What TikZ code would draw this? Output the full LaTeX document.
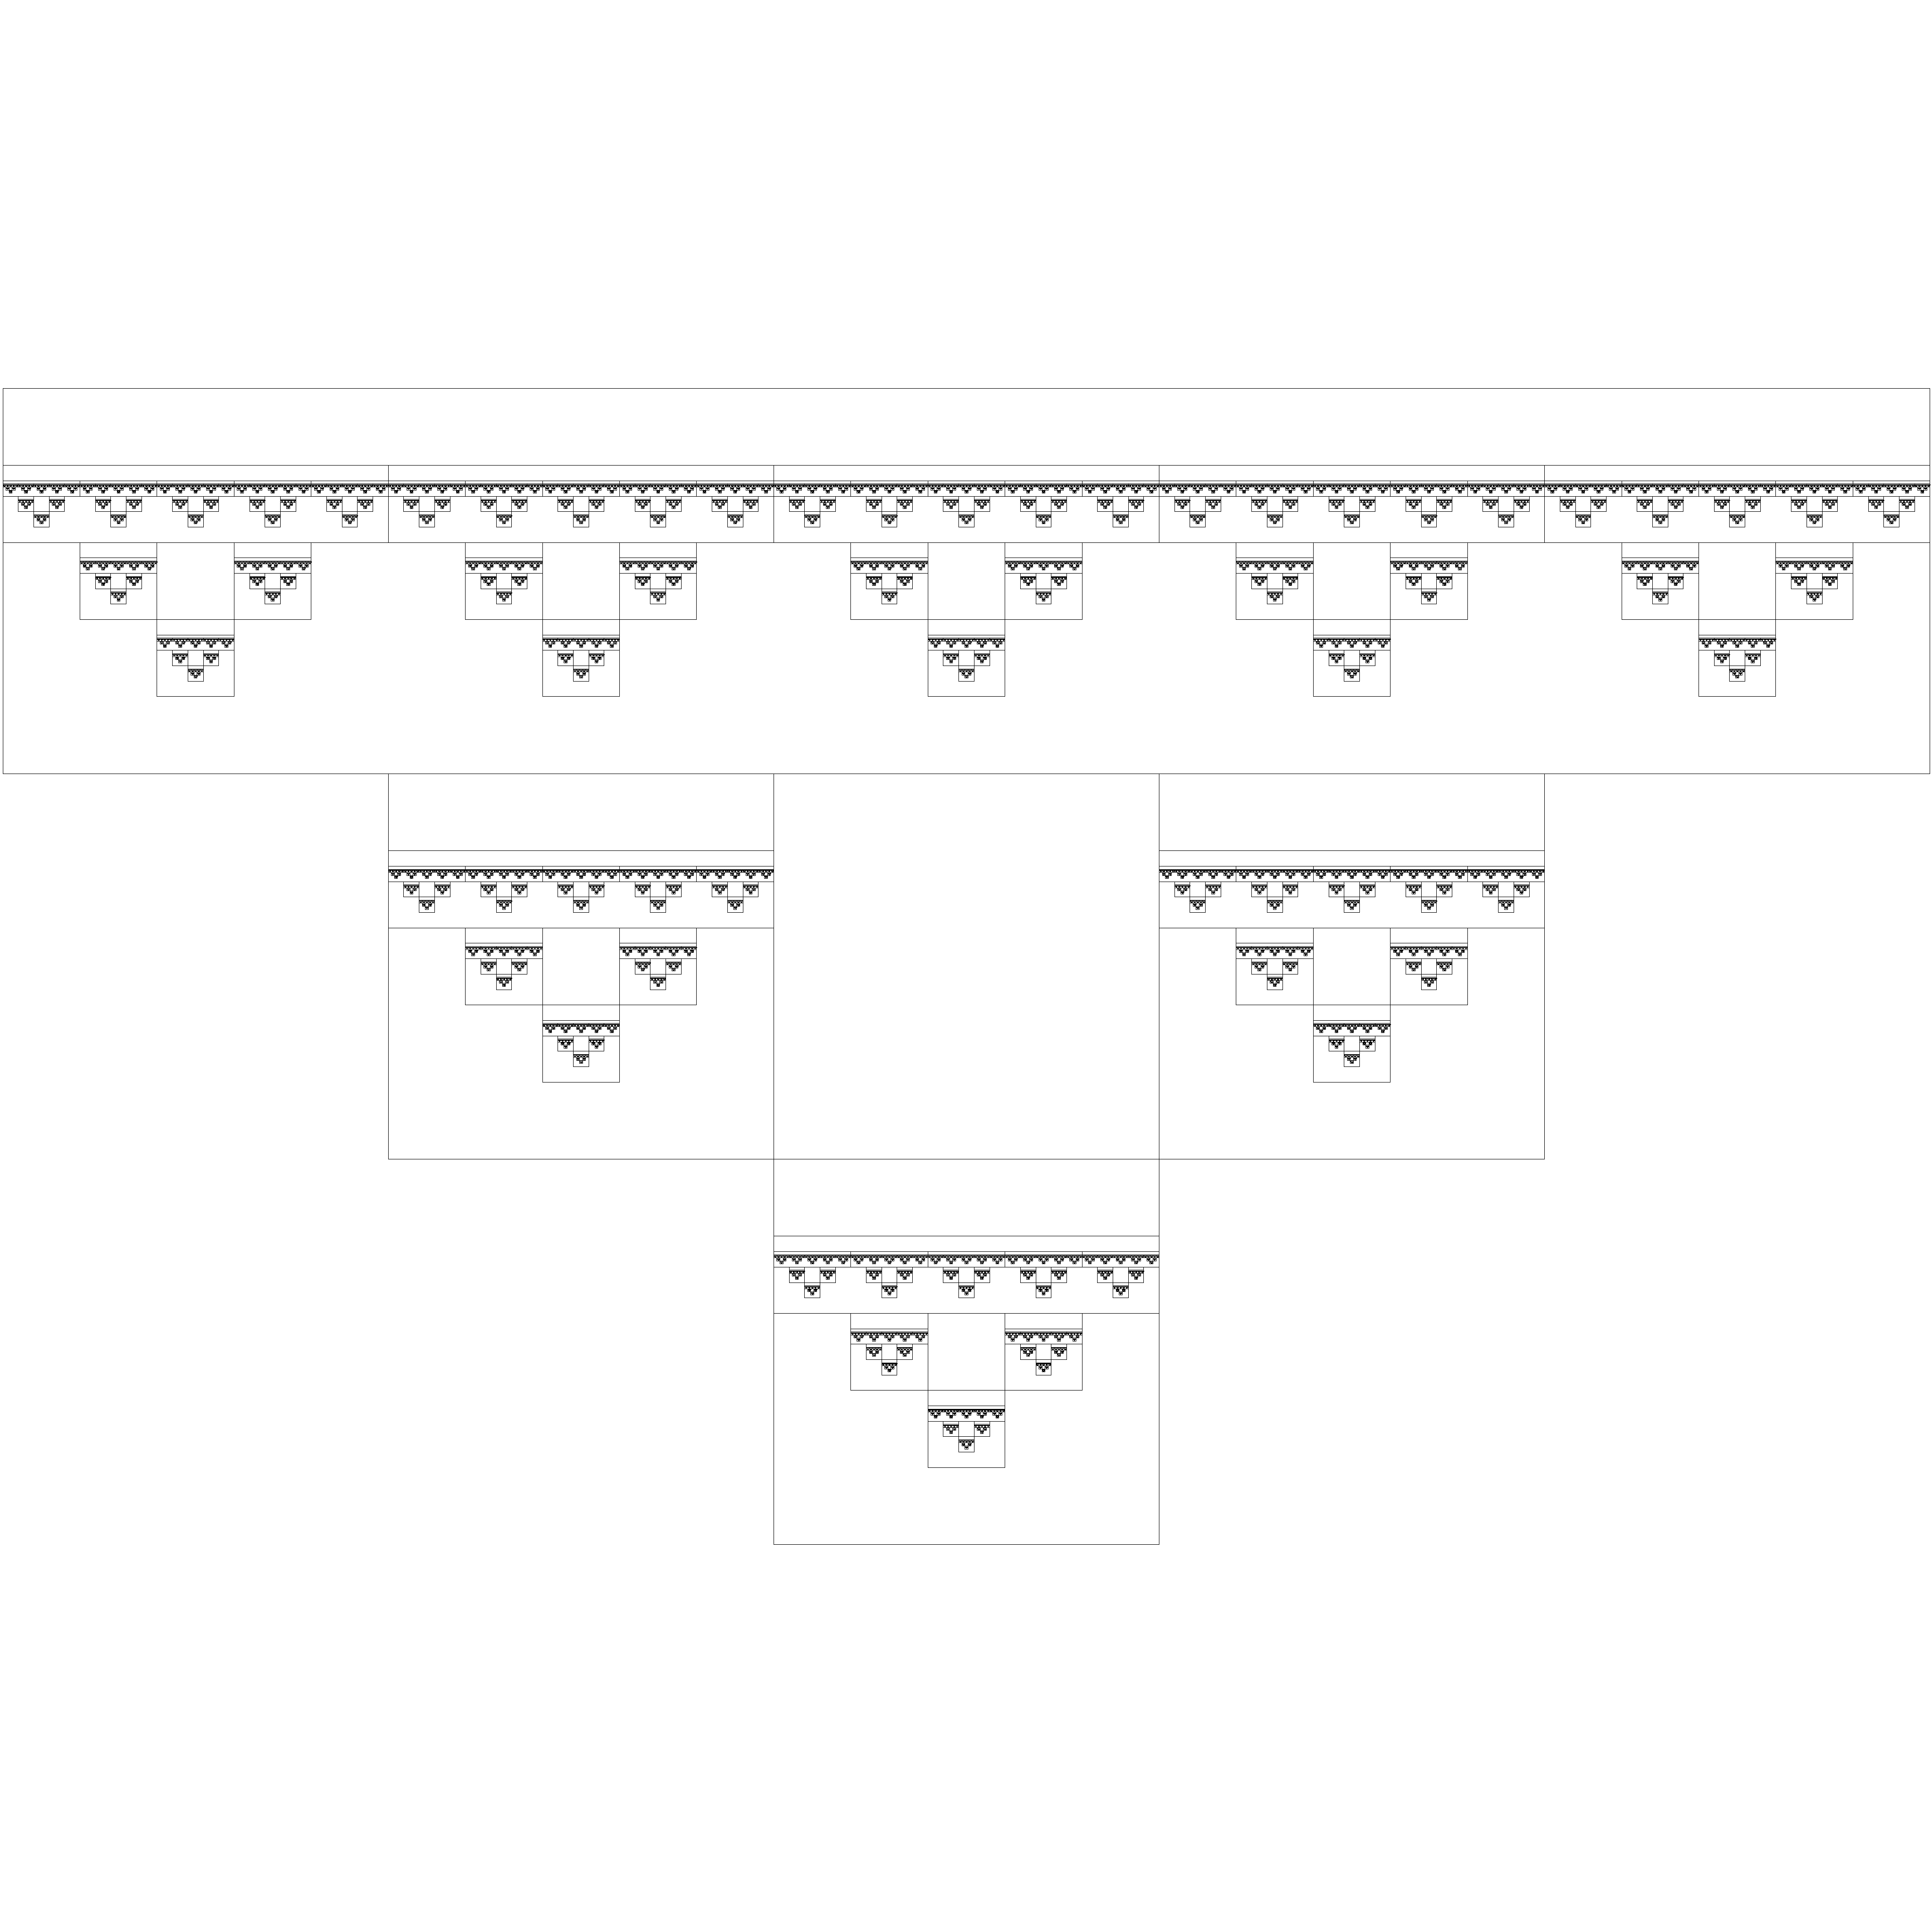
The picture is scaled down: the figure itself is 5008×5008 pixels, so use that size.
\documentclass[tikz,border=0pt]{standalone}
\makeatletter
% integer grid: 1 unit = 1.6 px of the 5008 px reference, origin at (7.5 px, 7.5 px), y downwards
\def\vhead{q 0.2267717 0 0 -0.2267717 1.062992 -1.062992 cm 0 G 0 J 0 j }
\def\vsq#1#2#3#4{% X Y S depth
  \ifnum#4>0 \expandafter\vsqdo\expandafter{\the\numexpr#3/5\relax}{#1}{#2}{#4}\fi}
\def\vsqdo#1#2#3#4{% w X Y depth
  \pgfsys@invoke{\vhead \ifnum#1=1 0.38\else 0.75\fi\space w
    \the\numexpr#2\relax\space\the\numexpr#3+#1\relax\space\the\numexpr5*#1\relax\space#1 re
    \the\numexpr#2+#1\relax\space\the\numexpr#3+2*#1\relax\space\the\numexpr3*#1\relax\space#1 re
    \the\numexpr#2+2*#1\relax\space\the\numexpr#3+2*#1\relax\space m
    \the\numexpr#2+2*#1\relax\space\the\numexpr#3+3*#1\relax\space l
    \the\numexpr#2+3*#1\relax\space\the\numexpr#3+2*#1\relax\space m
    \the\numexpr#2+3*#1\relax\space\the\numexpr#3+3*#1\relax\space l
    \the\numexpr#2+2*#1\relax\space\the\numexpr#3+3*#1\relax\space#1\space#1 re S Q}%
  \edef\vnext{%
    \noexpand\vsq{#2}{\the\numexpr#3+#1}{#1}{\the\numexpr#4-1}%
    \noexpand\vsq{\the\numexpr#2+#1}{\the\numexpr#3+#1}{#1}{\the\numexpr#4-1}%
    \noexpand\vsq{\the\numexpr#2+2*#1}{\the\numexpr#3+#1}{#1}{\the\numexpr#4-1}%
    \noexpand\vsq{\the\numexpr#2+3*#1}{\the\numexpr#3+#1}{#1}{\the\numexpr#4-1}%
    \noexpand\vsq{\the\numexpr#2+4*#1}{\the\numexpr#3+#1}{#1}{\the\numexpr#4-1}%
    \noexpand\vsq{\the\numexpr#2+#1}{\the\numexpr#3+2*#1}{#1}{\the\numexpr#4-1}%
    \noexpand\vsq{\the\numexpr#2+3*#1}{\the\numexpr#3+2*#1}{#1}{\the\numexpr#4-1}%
    \noexpand\vsq{\the\numexpr#2+2*#1}{\the\numexpr#3+3*#1}{#1}{\the\numexpr#4-1}%
  }%
  \vnext}
\makeatother
\begin{document}
\begin{tikzpicture}[x=0.005cm,y=-0.005cm]
\useasboundingbox (0,0) rectangle (5008,5008);%
\vsq{0}{0}{3125}{5}%
\end{tikzpicture}
\end{document}
